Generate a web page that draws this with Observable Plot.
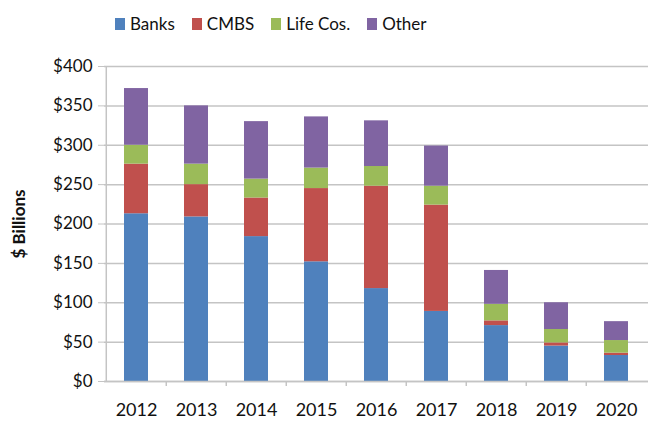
<!DOCTYPE html>
<html><head><meta charset="utf-8">
<script src="https://cdn.jsdelivr.net/npm/d3@7"></script>
<script src="https://cdn.jsdelivr.net/npm/@observablehq/plot@0.6"></script>
<style>
body{margin:0;background:#fff;font-family:Lato,"Open Sans",sans-serif;}
#legend{height:45px;display:flex;align-items:center;padding-left:115px;font-size:17px;color:#111;box-sizing:border-box;padding-top:2px}
.item{display:flex;align-items:center;margin-right:17px}
.sw{width:10px;height:12px;margin-right:5px}
#chart svg [aria-label="y-axis label"] text{font-weight:bold;font-size:17px}
#chart svg [aria-label="y-axis tick label"] text{font-size:17px}
</style></head><body>
<div id="legend"></div><div id="chart"></div>
<script>
const years = ["2012","2013","2014","2015","2016","2017","2018","2019","2020"];
const banks = [213,209,184,152,118,89,71,45,33];
const cmbs  = [63,41,49,93,130,135,6,4,3];
const life  = [24,26,24,26,25,24,21,17,16];
const other = [72,74,73,65,58,51,43,34,24];
const seriesNames = ["Banks","CMBS","Life Cos.","Other"];
const seriesColors = ["#4F81BD","#C0504D","#9BBB59","#8064A2"];
const yTicks = [0,50,100,150,200,250,300,350,400];

const seriesValues = [banks, cmbs, life, other];
const data = [];
years.forEach((yr,i)=>seriesNames.forEach((s,j)=>data.push({year:yr, series:s, value:seriesValues[j][i]})));

const legend = document.getElementById("legend");
seriesNames.forEach((s,j)=>{
  const it = document.createElement("div"); it.className="item";
  const sw = document.createElement("span"); sw.className="sw"; sw.style.background=seriesColors[j];
  const tx = document.createElement("span"); tx.textContent=s;
  it.appendChild(sw); it.appendChild(tx); legend.appendChild(it);
});

const W = 648, H = 378, ML = 104, MR = 0;
const step = (W - ML - MR) / years.length;
const grid = "#c4c4c4";

const chart = Plot.plot({
  width: W, height: H,
  marginTop: 21, marginBottom: 42, marginLeft: ML, marginRight: MR,
  style: {fontFamily: "Lato, 'Open Sans', sans-serif", fontSize: "18px", color: "#111", background: "#fff"},
  x: {domain: years, paddingInner: 0.6, paddingOuter: 0.3},
  y: {domain: [0,400]},
  color: {domain: seriesNames, range: seriesColors},
  marks: [
    Plot.gridY(yTicks, {stroke: grid, strokeOpacity: 1, strokeWidth: 1.5}),
    Plot.barY(data, Plot.stackY({x: "year", y: "value", fill: "series", order: seriesNames})),
    Plot.ruleY([0], {stroke: grid, strokeWidth: 1.5}),
    Plot.ruleX([0], {x: () => years[0], dx: -step/2, y1: 0, y2: 400, stroke: grid, strokeWidth: 1.5}),
    Plot.ruleX(years.slice(1), {x: d => d, dx: -step/2, y1: 0, y2: 0, insetBottom: -5, stroke: grid, strokeWidth: 1.5}),
    Plot.axisY(yTicks, {tickFormat: d => "$" + d, tickSize: 6, tickPadding: 6, stroke: grid, label: "$ Billions", labelArrow: "none", labelAnchor: "center", labelOffset: 92, fill: "#111"}),
    Plot.axisX({tickSize: 0, tickPadding: 22, label: null, fill: "#111"})
  ]
});
document.getElementById("chart").appendChild(chart);
</script>
</body></html>
